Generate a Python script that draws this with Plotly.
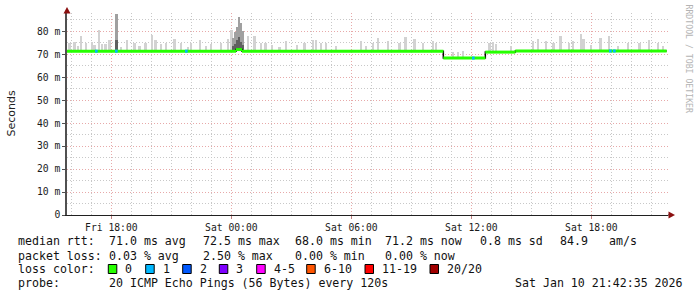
import numpy as np
import pandas as pd
import plotly.graph_objects as go

# ---------------- data ----------------
x_start = "2026-01-09 15:47"
x_end = "2026-01-10 21:50"

median_times = ["2026-01-09 15:47", "2026-01-10 00:14", "2026-01-10 00:32",
                "2026-01-10 10:36", "2026-01-10 12:42", "2026-01-10 14:12",
                "2026-01-10 21:46"]
median_values = [71.3, 72.0, 71.3, 68.3, 70.9, 71.4, 71.4]

smoke_times = [
    "2026-01-09 15:55", "2026-01-09 16:10", "2026-01-09 16:20", "2026-01-09 16:30",
    "2026-01-09 16:45", "2026-01-09 17:03", "2026-01-09 17:10", "2026-01-09 17:23",
    "2026-01-09 17:33", "2026-01-09 17:43", "2026-01-09 17:55", "2026-01-09 18:30",
    "2026-01-09 18:47", "2026-01-09 19:10", "2026-01-09 19:25", "2026-01-09 19:43",
    "2026-01-09 20:03", "2026-01-09 20:13", "2026-01-09 20:30", "2026-01-09 20:45",
    "2026-01-09 21:10", "2026-01-09 21:30", "2026-01-09 21:50", "2026-01-09 22:00",
    "2026-01-09 22:27", "2026-01-09 22:45", "2026-01-09 23:00", "2026-01-09 23:30",
    "2026-01-09 23:50", "2026-01-10 00:01", "2026-01-10 00:50", "2026-01-10 01:10",
    "2026-01-10 01:30", "2026-01-10 01:43", "2026-01-10 02:02", "2026-01-10 02:25",
    "2026-01-10 02:45", "2026-01-10 03:17", "2026-01-10 03:40", "2026-01-10 04:05",
    "2026-01-10 04:15", "2026-01-10 04:30", "2026-01-10 04:45", "2026-01-10 05:15",
    "2026-01-10 06:30", "2026-01-10 06:45", "2026-01-10 07:05", "2026-01-10 07:20",
    "2026-01-10 07:50", "2026-01-10 08:25", "2026-01-10 08:43", "2026-01-10 09:10",
    "2026-01-10 09:35", "2026-01-10 10:05", "2026-01-10 10:15", "2026-01-10 11:05",
    "2026-01-10 11:20", "2026-01-10 11:35", "2026-01-10 12:55", "2026-01-10 13:05",
    "2026-01-10 13:15", "2026-01-10 14:00", "2026-01-10 15:05", "2026-01-10 15:20",
    "2026-01-10 15:45", "2026-01-10 16:07", "2026-01-10 16:28", "2026-01-10 16:53",
    "2026-01-10 17:05", "2026-01-10 17:30", "2026-01-10 17:37", "2026-01-10 18:00",
    "2026-01-10 18:28", "2026-01-10 18:53", "2026-01-10 19:20", "2026-01-10 19:50",
    "2026-01-10 20:25", "2026-01-10 20:53", "2026-01-10 21:20", "2026-01-10 21:35",
]
smoke_tops = [
    75.0, 75.5, 73.5, 78.0,
    75.0, 75.5, 74.0, 80.7,
    74.5, 74.5, 76.0, 73.3,
    76.0, 75.0, 73.5, 75.0,
    78.5, 76.0, 74.5, 75.0,
    76.5, 75.0, 73.2, 75.0,
    76.0, 73.4, 74.5, 75.0,
    76.5, 80.7, 78.0, 78.0,
    75.0, 75.0, 74.2, 73.3,
    75.7, 74.2, 74.9, 76.0,
    76.0, 74.9, 74.9, 73.5,
    75.7, 73.4, 75.0, 77.1,
    75.7, 74.9, 77.5, 76.4,
    74.9, 75.7, 74.9, 71.0,
    70.8, 71.2, 75.0, 75.3,
    74.5, 73.5, 75.7, 76.4,
    75.7, 74.9, 77.8, 74.9,
    75.7, 79.0, 76.4, 74.2,
    77.1, 77.8, 73.5, 74.9,
    74.9, 76.0, 74.9, 73.6,
]

dark_times = ["2026-01-09 18:15", "2026-01-10 00:05", "2026-01-10 00:12",
              "2026-01-10 00:18", "2026-01-10 00:23", "2026-01-10 00:28",
              "2026-01-10 00:34"]
dark_tops = [87.3, 77.0, 79.5, 82.0, 86.3, 83.5, 80.0]
dark_cores = [76.0, 73.5, 74.5, 76.0, 77.5, 75.5, 74.0]

loss_times = ["2026-01-09 17:15", "2026-01-09 18:15", "2026-01-09 21:45",
              "2026-01-10 12:06", "2026-01-10 18:57", "2026-01-10 19:09"]
loss_levels = [1, 1, 1, 1, 1, 1]

y_ticks = [0, 10, 20, 30, 40, 50, 60, 70, 80]
y_ticktext = ["0", "10 m", "20 m", "30 m", "40 m", "50 m", "60 m", "70 m", "80 m"]

legend_labels = ["0", "1", "2", "3", "4-5", "6-10", "11-19", "20/20"]
legend_colors = ["#26ff00", "#00b8ff", "#0059ff", "#7e00ff", "#ff00ff",
                 "#ff5500", "#ff0000", "#a10000"]

stats_rtt = ["71.0 ms avg", "72.5 ms max", "68.0 ms min", "71.2 ms now",
             "0.8 ms sd", "84.9", "am/s"]
stats_loss = ["0.03 % avg", "2.50 % max", "0.00 % min", "0.00 % now"]
probe_text = "20 ICMP Echo Pings (56 Bytes) every 120s"
stamp_text = "Sat Jan 10 21:42:35 2026"

# ---------------- geometry ----------------
W, H = 697, 297
ML, MR, MT, MB = 67, 29, 13, 82
PW, PH = W - ML - MR, H - MT - MB
Y_MAX = PH / 2.2975


def px(x):
    return (x - ML) / PW


def py(y):
    return (MT + PH - y) / PH


mt = pd.to_datetime(median_times).values
mv = np.array(median_values)


def median_at(ts):
    t = pd.to_datetime(ts).values
    idx = np.clip(np.searchsorted(mt, t, side="right") - 1, 0, len(mv) - 1)
    return mv[idx]


fig = go.Figure()

# light smoke
s_base = median_at(smoke_times)
fig.add_trace(go.Bar(
    x=pd.to_datetime(smoke_times), y=np.array(smoke_tops) - s_base, base=s_base,
    width=5 * 60 * 1000, marker=dict(color="#d2d2d2", line=dict(width=0)),
    hoverinfo="skip"))

# dark smoke
d_base = median_at(dark_times)
fig.add_trace(go.Bar(
    x=pd.to_datetime(dark_times), y=np.array(dark_tops) - d_base, base=d_base,
    width=8 * 60 * 1000, marker=dict(color="#a0a0a0", line=dict(width=0)),
    hoverinfo="skip"))
fig.add_trace(go.Bar(
    x=pd.to_datetime(dark_times), y=np.array(dark_cores) - d_base, base=d_base,
    width=8 * 60 * 1000, marker=dict(color="#606060", line=dict(width=0)),
    hoverinfo="skip"))

# median step line (black joins)
fig.add_trace(go.Scatter(
    x=pd.to_datetime(median_times), y=median_values, mode="lines",
    line=dict(color="#000000", width=1.5, shape="hv"), hoverinfo="skip"))

# green horizontal segments
gx, gy = [], []
for i in range(len(median_times) - 1):
    gx += [pd.Timestamp(median_times[i]), pd.Timestamp(median_times[i + 1]), None]
    gy += [median_values[i], median_values[i], None]
fig.add_trace(go.Scatter(x=gx, y=gy, mode="lines",
                         line=dict(color=legend_colors[0], width=3),
                         hoverinfo="skip"))

# loss segments
lv = median_at(loss_times)
for t, v, lvl in zip(loss_times, lv, loss_levels):
    tt = pd.Timestamp(t)
    fig.add_trace(go.Scatter(
        x=[tt - pd.Timedelta(minutes=4), tt + pd.Timedelta(minutes=4)], y=[v, v],
        mode="lines", line=dict(color=legend_colors[lvl], width=3),
        hoverinfo="skip"))

mono = "DejaVu Sans Mono"
MAJ = "#e7a9a9"
MIN = "#c8c8c8"
fig.update_layout(
    width=W, height=H, margin=dict(l=ML, r=MR, t=MT, b=MB),
    paper_bgcolor="white", plot_bgcolor="white", showlegend=False,
    barmode="overlay", bargap=0,
    xaxis=dict(
        type="date", range=[x_start, x_end],
        tick0="2026-01-09 00:00", dtick=6 * 3600 * 1000, tickformat="%a %H:%M",
        showgrid=True, gridcolor=MAJ, griddash="1px,2px", gridwidth=1,
        minor=dict(dtick=3600 * 1000, showgrid=True, gridcolor=MIN,
                   griddash="1px,2px", gridwidth=1),
        showline=True, linecolor="#202020", linewidth=1.2,
        ticks="outside", ticklen=3, tickcolor="#c08080",
        tickfont=dict(family=mono, size=9.7, color="#1a1a1a"),
        zeroline=False, fixedrange=True),
    yaxis=dict(
        range=[0, Y_MAX], tickvals=y_ticks, ticktext=y_ticktext,
        showgrid=True, gridcolor=MAJ, griddash="1px,2px", gridwidth=1,
        minor=dict(dtick=5, tick0=0, showgrid=True, gridcolor=MIN,
                   griddash="1px,2px", gridwidth=1),
        showline=True, linecolor="#505050", linewidth=1.5,
        ticks="outside", ticklen=3, tickcolor="#505050",
        tickfont=dict(family=mono, size=9.7, color="#1a1a1a"),
        zeroline=False, fixedrange=True),
)

shapes = []
# arrows
shapes.append(dict(type="path", xref="paper", yref="paper",
                   path=f"M {px(63.5)} {py(13.5)} L {px(70.5)} {py(13.5)} L {px(67)} {py(7)} Z",
                   fillcolor="#8b1010", line=dict(width=0)))
shapes.append(dict(type="line", xref="paper", yref="paper",
                   x0=1, x1=px(670), y0=0, y1=0,
                   line=dict(color="#202020", width=1.2)))
shapes.append(dict(type="path", xref="paper", yref="paper",
                   path=f"M {px(668.5)} {py(211.5)} L {px(668.5)} {py(218.5)} L {px(675)} {py(215)} Z",
                   fillcolor="#8b1010", line=dict(width=0)))

ann = []


def text(x, y, s, size=11.6, color="#111111", family=mono, **kw):
    ann.append(dict(x=px(x), y=py(y), xref="paper", yref="paper", text=s,
                    showarrow=False, xanchor=kw.get("xanchor", "left"),
                    yanchor="middle", textangle=kw.get("angle", 0),
                    font=dict(family=family, size=size, color=color)))


row_y = [241.5, 255.5, 269.3, 283.3]
col_x = [107.3, 200.7, 293.3, 383.3, 478.3, 558.3, 606.7]
text(16, row_y[0], "median rtt:")
for s, x in zip(stats_rtt, col_x):
    text(x, row_y[0], s)
text(16, row_y[1], "packet loss:")
for s, x in zip(stats_loss, col_x):
    text(x, row_y[1], s)
text(16, row_y[2], "loss color:")
box_x = [108.3, 145.7, 182.7, 219.3, 256.7, 306.7, 365.0, 430.0]
for lab, col, bx in zip(legend_labels, legend_colors, box_x):
    shapes.append(dict(type="rect", xref="paper", yref="paper",
                       x0=px(bx), x1=px(bx + 8.5), y0=py(273.5), y1=py(264.5),
                       fillcolor=col, line=dict(color="#000000", width=1)))
    text(bx + 15, row_y[2], lab)
text(16, row_y[3], "probe:")
text(107.3, row_y[3], probe_text)
text(513.3, row_y[3], stamp_text)

# axis title and watermark
text(10.5, 114, "Seconds", size=11, family="DejaVu Sans", xanchor="center",
     angle=-90, color="#222222")
text(688.5, 59, "RRDTOOL / TOBI OETIKER", size=8.2, xanchor="center",
     angle=90, color="#b4b4b4")

fig.update_layout(shapes=shapes, annotations=ann)
fig.write_html("out.html")
